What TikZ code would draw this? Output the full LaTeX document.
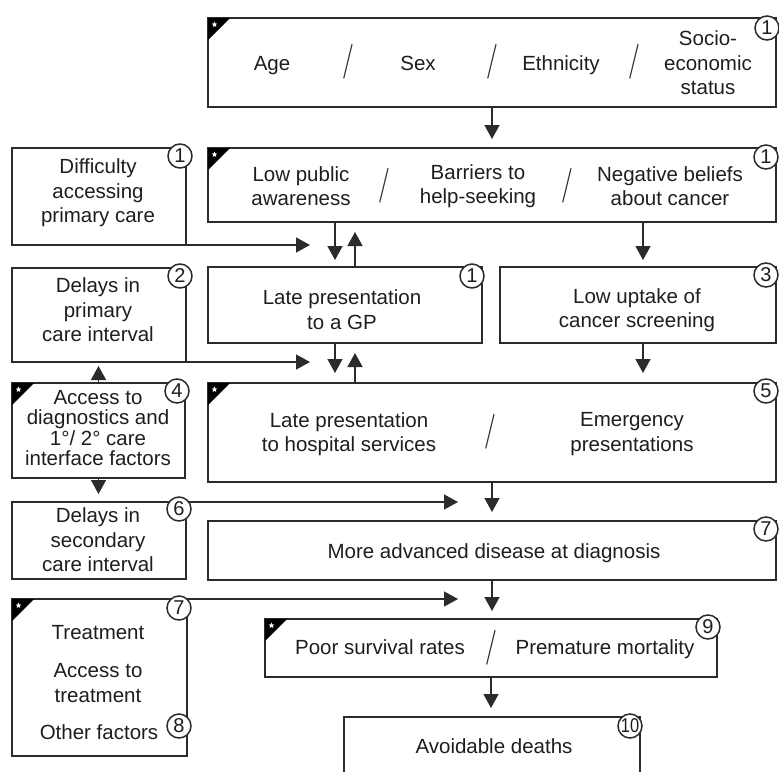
\documentclass[tikz,border=0pt]{standalone}
\usepackage{fontspec}
\setmainfont{Liberation Sans}
\newfontfamily\slashfont{Latin Modern Roman}
\usetikzlibrary{arrows.meta,calc,shapes.geometric}
\definecolor{lineclr}{HTML}{2B2B2B}
\definecolor{txtclr}{HTML}{1E1E1E}
\tikzset{
  box/.style={draw=lineclr, line width=1.4pt, inner sep=0pt, outer sep=0pt, anchor=north west},
  txt/.style={font=\fontsize{20.5}{24.5}\selectfont, align=center, text=txtclr, inner sep=0pt},
  onetxt/.style={font=\fontsize{20.5}{24.5}\selectfont, text=txtclr, inner sep=0pt, text height=15pt, text depth=4.5pt},
  tighttxt/.style={font=\fontsize{20.5}{20.5}\selectfont, align=center, text=txtclr, inner sep=0pt},
  slashtxt/.style={font=\slashfont\bfseries\fontsize{35}{35}\selectfont, text=lineclr, inner sep=0pt},
  num/.style={circle, draw=lineclr, fill=white, line width=1.5pt, minimum size=24pt, inner sep=0pt, text=txtclr, font=\fontsize{20}{20}\selectfont},
  arr/.style={draw=lineclr, line width=1.4pt, -{Triangle[width=15pt,length=14pt]}},
  cornermark/.style={fill=black},
  starmark/.style={star, star points=5, star point ratio=2.3, fill=white, minimum size=6pt, inner sep=0pt}
}
\newcommand{\myslash}{\scalebox{0.6}[1]{/}}
\begin{document}
\begin{tikzpicture}[x=1pt,y=-1pt]
\useasboundingbox (0,0) rectangle (779,771);
\clip (0,0) rectangle (779,771);
% ---------- boxes ----------
\node[box, minimum width=568pt, minimum height=89pt] (A) at (208,18) {};
\node[box, minimum width=568pt, minimum height=74pt] (B) at (208,148) {};
\node[box, minimum width=174pt, minimum height=97pt] (D) at (12,148) {};
\node[box, minimum width=274pt, minimum height=76pt] (GP) at (208,267) {};
\node[box, minimum width=276pt, minimum height=76pt] (LU) at (500,267) {};
\node[box, minimum width=174pt, minimum height=94pt] (DP) at (12,268) {};
\node[box, minimum width=173pt, minimum height=95pt] (AC) at (12,383) {};
\node[box, minimum width=568pt, minimum height=99pt] (E) at (208,383) {};
\node[box, minimum width=174pt, minimum height=77pt] (DS) at (12,502) {};
\node[box, minimum width=568pt, minimum height=59pt] (M) at (208,521) {};
\node[box, minimum width=175pt, minimum height=157pt] (T) at (12,599) {};
\node[box, minimum width=452pt, minimum height=58pt] (P) at (265,619) {};
\node[box, minimum width=296pt, minimum height=90pt] (AV) at (344,717) {};
% ---------- texts ----------
\node[onetxt] (tAge) at (272,65) {Age};
\node[slashtxt] (sA1) at (348,62) {\myslash};
\node[onetxt] (tSex) at (418,65) {Sex};
\node[slashtxt] (sA2) at (492,62) {\myslash};
\node[onetxt] (tEth) at (561,65) {Ethnicity};
\node[slashtxt] (sA3) at (634,62) {\myslash};
\node[txt] (tSoc) at (708,63) {Socio-\\economic\\status};
\node[txt] (tLow) at (301,186) {Low public\\awareness};
\node[slashtxt] (sB1) at (384,186) {\myslash};
\node[txt] (tBar) at (478,186) {Barriers to\\help-seeking};
\node[slashtxt] (sB2) at (567,186) {\myslash};
\node[txt] (tNeg) at (670,186) {Negative beliefs\\about cancer};
\node[txt] (tDif) at (98,193) {Difficulty\\accessing\\primary care};
\node[txt] (tGP) at (342,309.5) {Late presentation\\to a GP};
\node[txt] (tLU) at (637,310) {Low uptake of\\cancer screening};
\node[txt] (tDP) at (98,310) {Delays in\\primary\\care interval};
\node[tighttxt] (tAC) at (98,428) {Access to\\diagnostics and\\1°/ 2° care\\interface factors};
\node[txt] (tHos) at (349,434) {Late presentation\\to hospital services};
\node[slashtxt] (sE1) at (490,432) {\myslash};
\node[txt] (tEm) at (632,434) {Emergency\\presentations};
\node[txt] (tDS) at (98,540) {Delays in\\secondary\\care interval};
\node[onetxt] (tM) at (494,553) {More advanced disease at diagnosis};
\node[onetxt] (tTr) at (98,634) {Treatment};
\node[txt] (tAT) at (98,683) {Access to\\treatment};
\node[onetxt] (tOF) at (99,734) {Other factors};
\node[onetxt] (tPo) at (380,649) {Poor survival rates};
\node[slashtxt] (sP1) at (491,648) {\myslash};
\node[onetxt] (tPr) at (605,649) {Premature mortality};
\node[onetxt] (tAV) at (494,748) {Avoidable deaths};
% ---------- free arrow ends ----------
\coordinate (dT) at (310,245);
\coordinate (dpT) at (310,362);
\coordinate (dsT) at (458,502);
\coordinate (tT) at (458,599);
% ---------- arrows ----------
\draw[arr, shorten >=9pt] (A.south) -- (A.south |- B.north);
\draw[arr] (D.south east) -- (dT);
\draw[arr, shorten >=7pt] ([xshift=-10pt]GP.north |- B.south) -- ([xshift=-10pt]GP.north);
\draw[arr, shorten >=10pt] ([xshift=10pt]GP.north) -- ([xshift=10pt]GP.north |- B.south);
\draw[arr, shorten >=7pt] ([xshift=5pt]LU.north |- B.south) -- ([xshift=5pt]LU.north);
\draw[arr] (DP.south east) -- (dpT);
\draw[arr, shorten >=10pt] ([xshift=-10pt]GP.south) -- ([xshift=-10pt]GP.south |- E.north);
\draw[arr, shorten >=10pt] ([xshift=10pt]GP.south |- E.north) -- ([xshift=10pt]GP.south);
\draw[arr, shorten >=10pt] ([xshift=5pt]LU.south) -- ([xshift=5pt]LU.south |- E.north);
\draw[arr, shorten >=4pt] (AC.north) -- (AC.north |- DP.south);
\draw[arr, shorten >=8pt] (AC.south) -- (AC.south |- DS.north);
\draw[arr] (DS.north east) -- (dsT);
\draw[arr, shorten >=9pt] (E.south) -- (E.south |- M.north);
\draw[arr] (T.north east) -- (tT);
\draw[arr, shorten >=8pt] (M.south) -- (M.south |- P.north);
\draw[arr, shorten >=9pt] (P.south) -- (P.south |- AV.north);
% ---------- corner markers ----------
\foreach \b in {A,B,AC,E,T,P}{
  \fill[cornermark] (\b.north west) -- ++(22,0) -- ++(-22,22) -- cycle;
  \node[starmark] (star\b) at ($(\b.north west)+(6.5,6.5)$) {};
}
% ---------- circled numbers ----------
\node[num] (nA) at ($(A.north east)+(-9,10)$) {1};
\node[num] (nD) at ($(D.north east)+(-6,8)$) {1};
\node[num] (nB) at ($(B.north east)+(-10,9)$) {1};
\node[num] (nGP) at ($(GP.north east)+(-10,9)$) {1};
\node[num] (nLU) at ($(LU.north east)+(-10,8)$) {3};
\node[num] (nDP) at ($(DP.north east)+(-6,8)$) {2};
\node[num] (nAC) at ($(AC.north east)+(-8,8)$) {4};
\node[num] (nE) at ($(E.north east)+(-10,8)$) {5};
\node[num] (nDS) at ($(DS.north east)+(-7,7)$) {6};
\node[num] (nM) at ($(M.north east)+(-10,8)$) {7};
\node[num] (nT) at ($(T.north east)+(-8,9)$) {7};
\node[num] (nT8) at ($(T.north east)+(-8,127)$) {8};
\node[num] (nP) at ($(P.north east)+(-9,8)$) {9};
\node[num] (nAV) at ($(AV.north east)+(-10,9)$) {\scalebox{0.82}[1]{10}};
\end{tikzpicture}
\end{document}
